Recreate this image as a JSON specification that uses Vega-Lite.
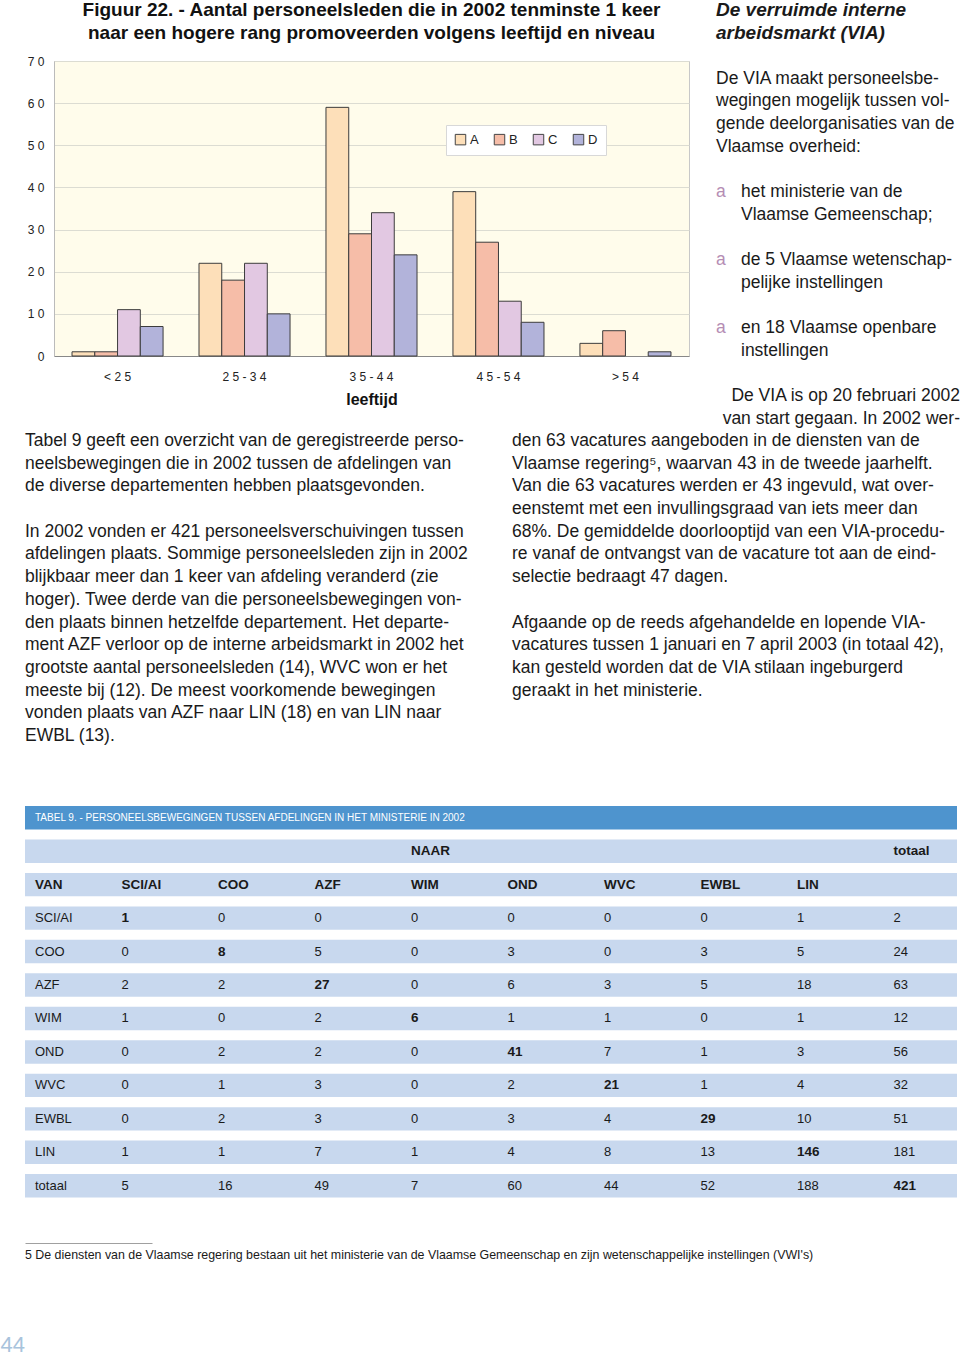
{
  "$schema": "https://vega.github.io/schema/vega-lite/v6.json",
  "padding": 0,
  "background": "#FFFFFF",
  "spacing": 0,
  "config": {
    "font": "Liberation Sans",
    "view": {"stroke": null},
    "text": {"color": "#1A1A1A"}
  },
  "datasets": {
    "pagenum": [{"text": "44"}],
    "blank": [{"text": ""}],
    "bars": [
      {"age": "<25", "level": "A", "value": 1}, {"age": "<25", "level": "B", "value": 1}, {"age": "<25", "level": "C", "value": 11}, {"age": "<25", "level": "D", "value": 7},
      {"age": "25-34", "level": "A", "value": 22}, {"age": "25-34", "level": "B", "value": 18}, {"age": "25-34", "level": "C", "value": 22}, {"age": "25-34", "level": "D", "value": 10},
      {"age": "35-44", "level": "A", "value": 59}, {"age": "35-44", "level": "B", "value": 29}, {"age": "35-44", "level": "C", "value": 34}, {"age": "35-44", "level": "D", "value": 24},
      {"age": "45-54", "level": "A", "value": 39}, {"age": "45-54", "level": "B", "value": 27}, {"age": "45-54", "level": "C", "value": 13}, {"age": "45-54", "level": "D", "value": 8},
      {"age": ">54", "level": "A", "value": 3}, {"age": ">54", "level": "B", "value": 6}, {"age": ">54", "level": "C", "value": 0}, {"age": ">54", "level": "D", "value": 1}
    ],
    "rightTop": [
      {"line": 0, "kind": "head", "text": "De verruimde interne"},
      {"line": 1, "kind": "head", "text": "arbeidsmarkt (VIA)"},
      {"line": 3, "kind": "body", "text": "De VIA maakt personeelsbe-"},
      {"line": 4, "kind": "body", "text": "wegingen mogelijk tussen vol-"},
      {"line": 5, "kind": "body", "text": "gende deelorganisaties van de"},
      {"line": 6, "kind": "body", "text": "Vlaamse overheid:"},
      {"line": 8, "kind": "bullet", "text": "het ministerie van de"},
      {"line": 9, "kind": "indent", "text": "Vlaamse Gemeenschap;"},
      {"line": 11, "kind": "bullet", "text": "de 5 Vlaamse wetenschap-"},
      {"line": 12, "kind": "indent", "text": "pelijke instellingen"},
      {"line": 14, "kind": "bullet", "text": "en 18 Vlaamse openbare"},
      {"line": 15, "kind": "indent", "text": "instellingen"},
      {"line": 17, "kind": "right", "text": "De VIA is op 20 februari 2002"},
      {"line": 18, "kind": "right", "text": "van start gegaan. In 2002 wer-"}
    ],
    "leftText": [
      {"line": 0, "text": "Tabel 9 geeft een overzicht van de geregistreerde perso-"},
      {"line": 1, "text": "neelsbewegingen die in 2002 tussen de afdelingen van"},
      {"line": 2, "text": "de diverse departementen hebben plaatsgevonden."},
      {"line": 4, "text": "In 2002 vonden er 421 personeelsverschuivingen tussen"},
      {"line": 5, "text": "afdelingen plaats. Sommige personeelsleden zijn in 2002"},
      {"line": 6, "text": "blijkbaar meer dan 1 keer van afdeling veranderd (zie"},
      {"line": 7, "text": "hoger). Twee derde van die personeelsbewegingen von-"},
      {"line": 8, "text": "den plaats binnen hetzelfde departement. Het departe-"},
      {"line": 9, "text": "ment AZF verloor op de interne arbeidsmarkt in 2002 het"},
      {"line": 10, "text": "grootste aantal personeelsleden (14), WVC won er het"},
      {"line": 11, "text": "meeste bij (12). De meest voorkomende bewegingen"},
      {"line": 12, "text": "vonden plaats van AZF naar LIN (18) en van LIN naar"},
      {"line": 13, "text": "EWBL (13)."}
    ],
    "rightText": [
      {"line": 0, "text": "den 63 vacatures aangeboden in de diensten van de"},
      {"line": 1, "text": "Vlaamse regering⁵, waarvan 43 in de tweede jaarhelft."},
      {"line": 2, "text": "Van die 63 vacatures werden er 43 ingevuld, wat over-"},
      {"line": 3, "text": "eenstemt met een invullingsgraad van iets meer dan"},
      {"line": 4, "text": "68%. De gemiddelde doorlooptijd van een VIA-procedu-"},
      {"line": 5, "text": "re vanaf de ontvangst van de vacature tot aan de eind-"},
      {"line": 6, "text": "selectie bedraagt 47 dagen."},
      {"line": 8, "text": "Afgaande op de reeds afgehandelde en lopende VIA-"},
      {"line": 9, "text": "vacatures tussen 1 januari en 7 april 2003 (in totaal 42),"},
      {"line": 10, "text": "kan gesteld worden dat de VIA stilaan ingeburgerd"},
      {"line": 11, "text": "geraakt in het ministerie."}
    ],
    "tableRows": [
      {"row": "TITLE", "kind": "title"}, {"row": "NAAR", "kind": "band"}, {"row": "VAN", "kind": "band"},
      {"row": "SCI/AI", "kind": "band"}, {"row": "COO", "kind": "band"}, {"row": "AZF", "kind": "band"},
      {"row": "WIM", "kind": "band"}, {"row": "OND", "kind": "band"}, {"row": "WVC", "kind": "band"},
      {"row": "EWBL", "kind": "band"}, {"row": "LIN", "kind": "band"}, {"row": "totaal", "kind": "band"}
    ],
    "table": [
      {"row": "TITLE", "col": "VAN", "text": "TABEL 9. - PERSONEELSBEWEGINGEN TUSSEN AFDELINGEN IN HET MINISTERIE IN 2002"},
      {"row": "NAAR", "col": "WIM", "text": "NAAR"}, {"row": "NAAR", "col": "totaal", "text": "totaal"},
      {"row": "VAN", "col": "VAN", "text": "VAN"}, {"row": "VAN", "col": "SCI/AI", "text": "SCI/AI"}, {"row": "VAN", "col": "COO", "text": "COO"}, {"row": "VAN", "col": "AZF", "text": "AZF"}, {"row": "VAN", "col": "WIM", "text": "WIM"}, {"row": "VAN", "col": "OND", "text": "OND"}, {"row": "VAN", "col": "WVC", "text": "WVC"}, {"row": "VAN", "col": "EWBL", "text": "EWBL"}, {"row": "VAN", "col": "LIN", "text": "LIN"},
      {"row": "SCI/AI", "col": "VAN", "text": "SCI/AI"}, {"row": "SCI/AI", "col": "SCI/AI", "text": "1"}, {"row": "SCI/AI", "col": "COO", "text": "0"}, {"row": "SCI/AI", "col": "AZF", "text": "0"}, {"row": "SCI/AI", "col": "WIM", "text": "0"}, {"row": "SCI/AI", "col": "OND", "text": "0"}, {"row": "SCI/AI", "col": "WVC", "text": "0"}, {"row": "SCI/AI", "col": "EWBL", "text": "0"}, {"row": "SCI/AI", "col": "LIN", "text": "1"}, {"row": "SCI/AI", "col": "totaal", "text": "2"},
      {"row": "COO", "col": "VAN", "text": "COO"}, {"row": "COO", "col": "SCI/AI", "text": "0"}, {"row": "COO", "col": "COO", "text": "8"}, {"row": "COO", "col": "AZF", "text": "5"}, {"row": "COO", "col": "WIM", "text": "0"}, {"row": "COO", "col": "OND", "text": "3"}, {"row": "COO", "col": "WVC", "text": "0"}, {"row": "COO", "col": "EWBL", "text": "3"}, {"row": "COO", "col": "LIN", "text": "5"}, {"row": "COO", "col": "totaal", "text": "24"},
      {"row": "AZF", "col": "VAN", "text": "AZF"}, {"row": "AZF", "col": "SCI/AI", "text": "2"}, {"row": "AZF", "col": "COO", "text": "2"}, {"row": "AZF", "col": "AZF", "text": "27"}, {"row": "AZF", "col": "WIM", "text": "0"}, {"row": "AZF", "col": "OND", "text": "6"}, {"row": "AZF", "col": "WVC", "text": "3"}, {"row": "AZF", "col": "EWBL", "text": "5"}, {"row": "AZF", "col": "LIN", "text": "18"}, {"row": "AZF", "col": "totaal", "text": "63"},
      {"row": "WIM", "col": "VAN", "text": "WIM"}, {"row": "WIM", "col": "SCI/AI", "text": "1"}, {"row": "WIM", "col": "COO", "text": "0"}, {"row": "WIM", "col": "AZF", "text": "2"}, {"row": "WIM", "col": "WIM", "text": "6"}, {"row": "WIM", "col": "OND", "text": "1"}, {"row": "WIM", "col": "WVC", "text": "1"}, {"row": "WIM", "col": "EWBL", "text": "0"}, {"row": "WIM", "col": "LIN", "text": "1"}, {"row": "WIM", "col": "totaal", "text": "12"},
      {"row": "OND", "col": "VAN", "text": "OND"}, {"row": "OND", "col": "SCI/AI", "text": "0"}, {"row": "OND", "col": "COO", "text": "2"}, {"row": "OND", "col": "AZF", "text": "2"}, {"row": "OND", "col": "WIM", "text": "0"}, {"row": "OND", "col": "OND", "text": "41"}, {"row": "OND", "col": "WVC", "text": "7"}, {"row": "OND", "col": "EWBL", "text": "1"}, {"row": "OND", "col": "LIN", "text": "3"}, {"row": "OND", "col": "totaal", "text": "56"},
      {"row": "WVC", "col": "VAN", "text": "WVC"}, {"row": "WVC", "col": "SCI/AI", "text": "0"}, {"row": "WVC", "col": "COO", "text": "1"}, {"row": "WVC", "col": "AZF", "text": "3"}, {"row": "WVC", "col": "WIM", "text": "0"}, {"row": "WVC", "col": "OND", "text": "2"}, {"row": "WVC", "col": "WVC", "text": "21"}, {"row": "WVC", "col": "EWBL", "text": "1"}, {"row": "WVC", "col": "LIN", "text": "4"}, {"row": "WVC", "col": "totaal", "text": "32"},
      {"row": "EWBL", "col": "VAN", "text": "EWBL"}, {"row": "EWBL", "col": "SCI/AI", "text": "0"}, {"row": "EWBL", "col": "COO", "text": "2"}, {"row": "EWBL", "col": "AZF", "text": "3"}, {"row": "EWBL", "col": "WIM", "text": "0"}, {"row": "EWBL", "col": "OND", "text": "3"}, {"row": "EWBL", "col": "WVC", "text": "4"}, {"row": "EWBL", "col": "EWBL", "text": "29"}, {"row": "EWBL", "col": "LIN", "text": "10"}, {"row": "EWBL", "col": "totaal", "text": "51"},
      {"row": "LIN", "col": "VAN", "text": "LIN"}, {"row": "LIN", "col": "SCI/AI", "text": "1"}, {"row": "LIN", "col": "COO", "text": "1"}, {"row": "LIN", "col": "AZF", "text": "7"}, {"row": "LIN", "col": "WIM", "text": "1"}, {"row": "LIN", "col": "OND", "text": "4"}, {"row": "LIN", "col": "WVC", "text": "8"}, {"row": "LIN", "col": "EWBL", "text": "13"}, {"row": "LIN", "col": "LIN", "text": "146"}, {"row": "LIN", "col": "totaal", "text": "181"},
      {"row": "totaal", "col": "VAN", "text": "totaal"}, {"row": "totaal", "col": "SCI/AI", "text": "5"}, {"row": "totaal", "col": "COO", "text": "16"}, {"row": "totaal", "col": "AZF", "text": "49"}, {"row": "totaal", "col": "WIM", "text": "7"}, {"row": "totaal", "col": "OND", "text": "60"}, {"row": "totaal", "col": "WVC", "text": "44"}, {"row": "totaal", "col": "EWBL", "text": "52"}, {"row": "totaal", "col": "LIN", "text": "188"}, {"row": "totaal", "col": "totaal", "text": "421"}
    ],
    "footnote": [{"text": "5 De diensten van de Vlaamse regering bestaan uit het ministerie van de Vlaamse Gemeenschap en zijn wetenschappelijke instellingen (VWI's)"}]
  },
  "vconcat": [
    {
      "spacing": 0,
      "hconcat": [
        {
          "width": 1,
          "height": 10,
          "data": {"name": "blank"},
          "mark": {"type": "text"},
          "encoding": {"text": {"field": "text"}}
        },
        {
          "width": 635,
          "height": 295,
          "view": {"fill": "#FFFCEB", "stroke": "#C8C8C8"},
          "title": {
            "text": ["Figuur 22. - Aantal personeelsleden die in 2002 tenminste 1 keer", "naar een hogere rang promoveerden volgens leeftijd en niveau"],
            "fontSize": 19, "fontWeight": "bold", "lineHeight": 23, "anchor": "middle", "offset": 12, "color": "#111111"
          },
          "data": {"name": "bars"},
          "mark": {"type": "bar", "stroke": "#3C3C3C", "strokeWidth": 1},
          "encoding": {
            "x": {
              "field": "age", "type": "nominal",
              "scale": {"domain": ["<25", "25-34", "35-44", "45-54", ">54"], "paddingInner": 0.283, "paddingOuter": 0.142},
              "axis": {"title": "leeftijd", "labelAngle": 0, "labelExpr": "join(split(datum.label, ''), ' ')", "labelFontSize": 12, "labelColor": "#222222", "labelPadding": 15, "ticks": false, "domainColor": "#888888", "titleFontSize": 16, "titleFontWeight": "bold", "titlePadding": 9, "titleColor": "#111111"}
            },
            "y": {
              "field": "value", "type": "quantitative",
              "scale": {"domain": [0, 70], "nice": false},
              "axis": {"title": null, "values": [0, 10, 20, 30, 40, 50, 60, 70], "labelExpr": "join(split(datum.label, ''), ' ')", "ticks": false, "labelPadding": 10, "gridColor": "#DCDCD2", "domainColor": "#BBBBBB", "labelFontSize": 12, "labelColor": "#222222"}
            },
            "xOffset": {"field": "level", "type": "nominal", "scale": {"domain": ["A", "B", "C", "D"], "paddingInner": 0, "paddingOuter": 0}},
            "color": {
              "field": "level", "type": "nominal",
              "scale": {"domain": ["A", "B", "C", "D"], "range": ["#FDDFB9", "#F6BDA8", "#E2C8E2", "#B2B3DA"]},
              "legend": {"title": null, "orient": "none", "legendX": 421, "legendY": 64, "direction": "horizontal", "columns": 4, "fillColor": "#FFFFFF", "strokeColor": "#D8D8D8", "padding": 8, "symbolType": "square", "symbolSize": 110, "symbolStrokeColor": "#444444", "symbolStrokeWidth": 1, "symbolOpacity": 1, "labelFontSize": 13, "labelColor": "#222222", "labelOffset": 3, "columnPadding": 13}
            },
            "strokeOpacity": {"condition": {"test": "datum.value === 0", "value": 0}, "value": 1}
          }
        },
        {
          "width": 270,
          "height": 370,
          "data": {"name": "rightTop"},
          "encoding": {
            "y": {"field": "line", "type": "quantitative", "scale": {"domain": [2.2247, 18.524], "reverse": true, "nice": false, "zero": false}, "axis": null},
            "x": {"datum": 0, "type": "quantitative", "scale": {"domain": [0, 1], "nice": false, "zero": false}, "axis": null},
            "text": {"field": "text"}
          },
          "layer": [
            {"transform": [{"filter": "datum.kind === 'head'"}], "mark": {"type": "text", "align": "left", "baseline": "middle", "dx": 26, "fontSize": 19, "fontWeight": "bold", "fontStyle": "italic"}},
            {"transform": [{"filter": "datum.kind === 'body'"}], "mark": {"type": "text", "align": "left", "baseline": "middle", "dx": 26, "fontSize": 17.5}},
            {"transform": [{"filter": "datum.kind === 'bullet' || datum.kind === 'indent'"}], "mark": {"type": "text", "align": "left", "baseline": "middle", "fontSize": 17.5, "dx": 51}},
            {"transform": [{"filter": "datum.kind === 'bullet'"}], "mark": {"type": "text", "align": "left", "baseline": "middle", "dx": 26, "fontSize": 17.5, "color": "#B58DB4"}, "encoding": {"text": {"value": "a"}}},
            {"transform": [{"filter": "datum.kind === 'right'"}], "mark": {"type": "text", "align": "right", "baseline": "middle", "fontSize": 17.5}, "encoding": {"x": {"datum": 1, "type": "quantitative", "scale": {"domain": [0, 1], "nice": false, "zero": false}, "axis": null}}}
          ]
        }
      ]
    },
    {
      "spacing": 0,
      "hconcat": [
        {
          "width": 487,
          "height": 370,
          "data": {"name": "leftText"},
          "mark": {"type": "text", "align": "left", "baseline": "middle", "fontSize": 17.5},
          "encoding": {
            "y": {"field": "line", "type": "quantitative", "scale": {"domain": [-0.4405, 15.859], "reverse": true, "nice": false, "zero": false}, "axis": null},
            "x": {"datum": 0, "type": "quantitative", "scale": {"domain": [0, 1], "nice": false, "zero": false}, "axis": null},
            "text": {"field": "text"}
          }
        },
        {
          "width": 445,
          "height": 370,
          "data": {"name": "rightText"},
          "mark": {"type": "text", "align": "left", "baseline": "middle", "fontSize": 17.5},
          "encoding": {
            "y": {"field": "line", "type": "quantitative", "scale": {"domain": [-0.4405, 15.859], "reverse": true, "nice": false, "zero": false}, "axis": null},
            "x": {"datum": 0, "type": "quantitative", "scale": {"domain": [0, 1], "nice": false, "zero": false}, "axis": null},
            "text": {"field": "text"}
          }
        }
      ]
    },
    {
      "width": 932,
      "height": 442,
      "layer": [
        {
          "data": {"name": "tableRows"},
          "transform": [{"filter": "datum.kind === 'title'"}],
          "mark": {"type": "rect", "color": "#4E94CE"},
          "encoding": {
            "y": {"field": "row", "type": "nominal", "scale": {"type": "band", "domain": ["TITLE", "NAAR", "VAN", "SCI/AI", "COO", "AZF", "WIM", "OND", "WVC", "EWBL", "LIN", "totaal"], "paddingInner": 0.3, "paddingOuter": 0.755, "align": 0.099}, "axis": null}
          }
        },
        {
          "data": {"name": "tableRows"},
          "transform": [{"filter": "datum.kind === 'band'"}],
          "mark": {"type": "rect", "color": "#C8D8EE"},
          "encoding": {
            "y": {"field": "row", "type": "nominal", "scale": {"type": "band", "domain": ["TITLE", "NAAR", "VAN", "SCI/AI", "COO", "AZF", "WIM", "OND", "WVC", "EWBL", "LIN", "totaal"], "paddingInner": 0.3, "paddingOuter": 0.755, "align": 0.099}, "axis": null}
          }
        },
        {
          "data": {"name": "table"},
          "transform": [{"filter": "datum.row === 'TITLE'"}],
          "mark": {"type": "text", "align": "left", "baseline": "middle", "dx": 10, "fontSize": 10, "color": "#FFFFFF"},
          "encoding": {
            "x": {"field": "col", "type": "nominal", "scale": {"type": "point", "domain": ["VAN", "SCI/AI", "COO", "AZF", "WIM", "OND", "WVC", "EWBL", "LIN", "totaal"], "padding": 0.329, "align": 0}, "axis": null},
            "y": {"field": "row", "type": "nominal", "scale": {"type": "band", "domain": ["TITLE", "NAAR", "VAN", "SCI/AI", "COO", "AZF", "WIM", "OND", "WVC", "EWBL", "LIN", "totaal"], "paddingInner": 0.3, "paddingOuter": 0.755, "align": 0.099}, "axis": null},
            "text": {"field": "text"}
          }
        },
        {
          "data": {"name": "table"},
          "transform": [{"filter": "datum.col === 'VAN' && datum.row === 'VAN'"}],
          "mark": {"type": "text", "align": "left", "baseline": "middle", "dx": 10, "fontSize": 13.5, "fontWeight": "bold"},
          "encoding": {
            "x": {"field": "col", "type": "nominal", "scale": {"type": "point", "domain": ["VAN", "SCI/AI", "COO", "AZF", "WIM", "OND", "WVC", "EWBL", "LIN", "totaal"], "padding": 0.329, "align": 0}, "axis": null},
            "y": {"field": "row", "type": "nominal", "scale": {"type": "band", "domain": ["TITLE", "NAAR", "VAN", "SCI/AI", "COO", "AZF", "WIM", "OND", "WVC", "EWBL", "LIN", "totaal"], "paddingInner": 0.3, "paddingOuter": 0.755, "align": 0.099}, "axis": null},
            "text": {"field": "text"}
          }
        },
        {
          "data": {"name": "table"},
          "transform": [{"filter": "datum.col === 'VAN' && datum.row !== 'VAN' && datum.row !== 'TITLE'"}],
          "mark": {"type": "text", "align": "left", "baseline": "middle", "dx": 10, "fontSize": 13},
          "encoding": {
            "x": {"field": "col", "type": "nominal", "scale": {"type": "point", "domain": ["VAN", "SCI/AI", "COO", "AZF", "WIM", "OND", "WVC", "EWBL", "LIN", "totaal"], "padding": 0.329, "align": 0}, "axis": null},
            "y": {"field": "row", "type": "nominal", "scale": {"type": "band", "domain": ["TITLE", "NAAR", "VAN", "SCI/AI", "COO", "AZF", "WIM", "OND", "WVC", "EWBL", "LIN", "totaal"], "paddingInner": 0.3, "paddingOuter": 0.755, "align": 0.099}, "axis": null},
            "text": {"field": "text"}
          }
        },
        {
          "data": {"name": "table"},
          "transform": [{"filter": "datum.col !== 'VAN' && (datum.row === 'NAAR' || datum.row === 'VAN' || datum.row === datum.col)"}],
          "mark": {"type": "text", "align": "left", "baseline": "middle", "fontSize": 13.5, "fontWeight": "bold"},
          "encoding": {
            "x": {"field": "col", "type": "nominal", "scale": {"type": "point", "domain": ["VAN", "SCI/AI", "COO", "AZF", "WIM", "OND", "WVC", "EWBL", "LIN", "totaal"], "padding": 0.329, "align": 0}, "axis": null},
            "y": {"field": "row", "type": "nominal", "scale": {"type": "band", "domain": ["TITLE", "NAAR", "VAN", "SCI/AI", "COO", "AZF", "WIM", "OND", "WVC", "EWBL", "LIN", "totaal"], "paddingInner": 0.3, "paddingOuter": 0.755, "align": 0.099}, "axis": null},
            "text": {"field": "text"}
          }
        },
        {
          "data": {"name": "table"},
          "transform": [{"filter": "datum.col !== 'VAN' && !(datum.row === 'NAAR' || datum.row === 'VAN' || datum.row === datum.col)"}],
          "mark": {"type": "text", "align": "left", "baseline": "middle", "fontSize": 13},
          "encoding": {
            "x": {"field": "col", "type": "nominal", "scale": {"type": "point", "domain": ["VAN", "SCI/AI", "COO", "AZF", "WIM", "OND", "WVC", "EWBL", "LIN", "totaal"], "padding": 0.329, "align": 0}, "axis": null},
            "y": {"field": "row", "type": "nominal", "scale": {"type": "band", "domain": ["TITLE", "NAAR", "VAN", "SCI/AI", "COO", "AZF", "WIM", "OND", "WVC", "EWBL", "LIN", "totaal"], "paddingInner": 0.3, "paddingOuter": 0.755, "align": 0.099}, "axis": null},
            "text": {"field": "text"}
          }
        }
      ]
    },
    {
      "width": 127,
      "height": 24,
      "data": {"name": "footnote"},
      "mark": {"type": "text", "align": "left", "baseline": "middle", "fontSize": 12.4},
      "encoding": {
        "x": {"datum": 0, "type": "quantitative", "scale": {"domain": [0, 1], "nice": false, "zero": false}, "axis": {"orient": "top", "domain": true, "domainColor": "#A0A0A0", "domainWidth": 1, "labels": false, "ticks": false, "grid": false, "title": null}},
        "text": {"field": "text"}
      }
    },
    {
      "width": 1,
      "height": 85,
      "data": {"name": "pagenum"},
      "mark": {"type": "text", "align": "right", "baseline": "alphabetic", "fontSize": 22, "color": "#A8C3DC"},
      "encoding": {
        "x": {"datum": 0, "type": "quantitative", "scale": {"domain": [0, 1], "nice": false, "zero": false}, "axis": null},
        "y": {"datum": 0, "type": "quantitative", "scale": {"domain": [0, 1], "nice": false, "zero": false}, "axis": null},
        "text": {"field": "text"}
      }
    }
  ]
}
